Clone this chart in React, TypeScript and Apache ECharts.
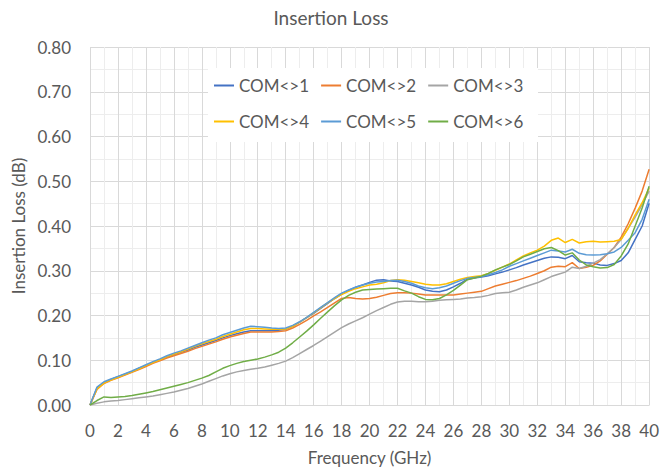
import React, { useEffect, useRef } from "react";
import * as echarts from "echarts";

const FREQ_GHZ = [
  0, 0.5, 1, 1.5, 2, 2.5, 3, 3.5, 4, 4.5, 5, 5.5, 6, 6.5, 7, 7.5, 8, 8.5, 9, 9.5,
  10, 10.5, 11, 11.5, 12, 12.5, 13, 13.5, 14, 14.5, 15, 15.5, 16, 16.5, 17, 17.5, 18, 18.5, 19, 19.5,
  20, 20.5, 21, 21.5, 22, 22.5, 23, 23.5, 24, 24.5, 25, 25.5, 26, 26.5, 27, 27.5, 28, 28.5, 29, 29.5,
  30, 30.5, 31, 31.5, 32, 32.5, 33, 33.5, 34, 34.5, 35, 35.5, 36, 36.5, 37, 37.5, 38, 38.5, 39, 39.5, 40,
];

const COM1 = [
  0.0, 0.038, 0.05, 0.057, 0.063, 0.069, 0.075, 0.082, 0.088, 0.095, 0.101, 0.107, 0.113, 0.118, 0.123, 0.129, 0.134, 0.139, 0.144, 0.15,
  0.155, 0.159, 0.163, 0.166, 0.166, 0.166, 0.166, 0.167, 0.169, 0.176, 0.185, 0.195, 0.205, 0.216, 0.227, 0.238, 0.248, 0.256, 0.263, 0.268,
  0.274, 0.279, 0.28, 0.277, 0.276, 0.272, 0.268, 0.263, 0.257, 0.254, 0.253, 0.257, 0.264, 0.272, 0.281, 0.284, 0.286, 0.289, 0.293, 0.297,
  0.302, 0.307, 0.313, 0.318, 0.323, 0.328, 0.331, 0.33, 0.327, 0.334, 0.32, 0.318, 0.317, 0.313, 0.312, 0.316, 0.323, 0.34, 0.37, 0.4, 0.451,
];
const COM2 = [
  0.0, 0.035, 0.048, 0.055, 0.061, 0.067, 0.073, 0.079, 0.086, 0.093, 0.099, 0.105, 0.11, 0.115, 0.12, 0.126, 0.131, 0.136, 0.141, 0.147,
  0.152, 0.156, 0.16, 0.163, 0.163, 0.163, 0.163, 0.164, 0.166, 0.172, 0.18, 0.189, 0.199, 0.208, 0.218, 0.228, 0.238, 0.24, 0.238, 0.237,
  0.238, 0.241, 0.245, 0.249, 0.251, 0.251, 0.25, 0.248, 0.246, 0.246, 0.246, 0.246, 0.246, 0.248, 0.25, 0.252, 0.254, 0.26, 0.266, 0.27,
  0.274, 0.278, 0.283, 0.288, 0.294, 0.3, 0.308, 0.31, 0.309, 0.318, 0.305, 0.308, 0.312, 0.322, 0.337, 0.352, 0.375, 0.405, 0.44, 0.478, 0.527,
];
const COM3 = [
  0.0, 0.004, 0.007, 0.009, 0.01, 0.012, 0.014, 0.016, 0.018, 0.02, 0.023, 0.026, 0.029, 0.033, 0.037, 0.042, 0.047, 0.053, 0.059, 0.065,
  0.07, 0.074, 0.077, 0.08, 0.082, 0.085, 0.089, 0.093, 0.098, 0.106, 0.115, 0.124, 0.133, 0.143, 0.153, 0.163, 0.173, 0.181, 0.188, 0.195,
  0.203, 0.211, 0.218, 0.225, 0.23, 0.232, 0.232, 0.231, 0.231, 0.232, 0.234, 0.235, 0.236, 0.237, 0.239, 0.24, 0.242, 0.245, 0.249, 0.251,
  0.252, 0.257, 0.263, 0.268, 0.273, 0.28, 0.287, 0.292, 0.297, 0.308, 0.305, 0.31, 0.317, 0.325, 0.338, 0.352, 0.37, 0.395, 0.42, 0.448, 0.478,
];
const COM4 = [
  0.0, 0.036, 0.049, 0.056, 0.062, 0.068, 0.074, 0.081, 0.088, 0.095, 0.101, 0.108, 0.114, 0.119, 0.125, 0.131, 0.137, 0.142, 0.147, 0.153,
  0.158, 0.163, 0.168, 0.171, 0.171, 0.17, 0.169, 0.169, 0.17, 0.176, 0.185, 0.195, 0.206, 0.217, 0.228, 0.238, 0.247, 0.254, 0.26, 0.264,
  0.268, 0.27, 0.273, 0.278, 0.28, 0.279, 0.276, 0.273, 0.27, 0.268, 0.268, 0.271, 0.276, 0.281, 0.285, 0.287, 0.289, 0.294, 0.301, 0.308,
  0.315, 0.324, 0.333, 0.34, 0.346, 0.355, 0.368, 0.373, 0.363, 0.37, 0.362, 0.365, 0.366, 0.364, 0.365, 0.366, 0.37, 0.395, 0.425, 0.452, 0.485,
];
const COM5 = [
  0.0, 0.04, 0.052, 0.058, 0.064, 0.07, 0.076, 0.083, 0.09, 0.097, 0.103, 0.11, 0.116, 0.121, 0.127, 0.133, 0.139, 0.145, 0.15, 0.157,
  0.162, 0.167, 0.172, 0.176, 0.175, 0.174, 0.172, 0.171, 0.172, 0.178, 0.186, 0.196, 0.207, 0.218, 0.229, 0.24, 0.25, 0.257, 0.263, 0.268,
  0.272, 0.275, 0.276, 0.278, 0.279, 0.276, 0.272, 0.266, 0.262, 0.26, 0.262, 0.266, 0.272, 0.278, 0.283, 0.285, 0.287, 0.291, 0.296, 0.302,
  0.31, 0.316, 0.322, 0.328, 0.334, 0.34, 0.346, 0.344, 0.342, 0.348, 0.339, 0.336, 0.335, 0.336, 0.338, 0.342, 0.352, 0.368, 0.385, 0.415, 0.46,
];
const COM6 = [
  0.0, 0.01, 0.018, 0.017, 0.018, 0.019, 0.021, 0.024, 0.027, 0.03, 0.034, 0.038, 0.042, 0.046, 0.05, 0.055, 0.06, 0.066, 0.074, 0.082,
  0.088, 0.093, 0.097, 0.1, 0.103, 0.107, 0.112, 0.118, 0.127, 0.139, 0.152, 0.165, 0.179, 0.194, 0.208, 0.222, 0.235, 0.245, 0.252, 0.257,
  0.258, 0.259, 0.26, 0.261, 0.261, 0.255, 0.25, 0.242, 0.236, 0.235, 0.238, 0.246, 0.256, 0.268, 0.28, 0.284, 0.288, 0.294, 0.302, 0.308,
  0.314, 0.322, 0.331, 0.337, 0.343, 0.349, 0.352, 0.345, 0.335, 0.34, 0.324, 0.313, 0.309, 0.306, 0.307, 0.314, 0.333, 0.36, 0.4, 0.44, 0.489,
];

const SERIES_NAMES = ["COM<>1", "COM<>2", "COM<>3", "COM<>4", "COM<>5", "COM<>6"];
const SERIES_VALUES = [COM1, COM2, COM3, COM4, COM5, COM6];
const COLORS = ["#4472C4", "#ED7D31", "#A5A5A5", "#FFC000", "#5B9BD5", "#70AD47"];

const FONT = "Lato";
const TEXT_COLOR = "#595959";

export default function App() {
  const ref = useRef<HTMLDivElement>(null);
  useEffect(() => {
    document.body.style.margin = "0";
    if (!ref.current) return;
    const chart = echarts.init(ref.current, null, { renderer: "svg" });
    const legendCommon = {
      orient: "horizontal",
      icon: "rect",
      itemWidth: 20,
      itemHeight: 2,
      itemGap: 12,
      left: 214,
      padding: 0,
      textStyle: { fontFamily: FONT, fontSize: 17, color: TEXT_COLOR },
    };
    chart.setOption({
      animation: false,
      backgroundColor: "#ffffff",
      textStyle: { fontFamily: FONT },
      title: {
        text: "Insertion Loss",
        left: "center",
        top: 3,
        textStyle: { fontFamily: FONT, fontSize: 19, fontWeight: "normal", color: TEXT_COLOR },
      },
      graphic: [
        {
          type: "rect",
          left: 208,
          top: 68,
          z: 1,
          shape: { width: 330, height: 74 },
          style: { fill: "#ffffff" },
        },
      ],
      legend: [
        { ...legendCommon, top: 77, data: SERIES_NAMES.slice(0, 3) },
        { ...legendCommon, top: 113, data: SERIES_NAMES.slice(3, 6) },
      ],
      grid: { left: 90, right: 9, top: 47, bottom: 66, containLabel: false },
      xAxis: {
        type: "value",
        min: 0,
        max: 40,
        interval: 2,
        name: "Frequency (GHz)",
        nameLocation: "middle",
        nameGap: 44,
        nameTextStyle: { fontFamily: FONT, fontSize: 17, color: TEXT_COLOR },
        axisLine: { show: true, lineStyle: { color: "#D9D9D9", width: 1 } },
        axisTick: { show: false },
        axisLabel: { margin: 17, fontFamily: FONT, fontSize: 17, color: TEXT_COLOR },
        splitLine: { show: true, lineStyle: { color: "#D9D9D9", width: 1 } },
        minorTick: { show: false, splitNumber: 2 },
        minorSplitLine: { show: true, lineStyle: { color: "#EDEDED", width: 1 } },
      },
      yAxis: {
        type: "value",
        min: 0,
        max: 0.8,
        interval: 0.1,
        name: "Insertion Loss (dB)",
        nameLocation: "middle",
        nameGap: 61,
        nameTextStyle: { fontFamily: FONT, fontSize: 17, color: TEXT_COLOR },
        axisLine: { show: false },
        axisTick: { show: false },
        axisLabel: {
          margin: 19,
          fontFamily: FONT,
          fontSize: 17,
          color: TEXT_COLOR,
          formatter: (v: number) => v.toFixed(2),
        },
        splitLine: { show: true, lineStyle: { color: "#D9D9D9", width: 1 } },
        minorTick: { show: false, splitNumber: 2 },
        minorSplitLine: { show: true, lineStyle: { color: "#EDEDED", width: 1 } },
      },
      series: SERIES_NAMES.map((name, i) => ({
        name,
        type: "line",
        data: FREQ_GHZ.map((f, j) => [f, SERIES_VALUES[i][j]]),
        showSymbol: false,
        symbol: "none",
        color: COLORS[i],
        lineStyle: { color: COLORS[i], width: 1.5 },
        z: 2 + i,
      })),
    });
    return () => chart.dispose();
  }, []);
  return <div ref={ref} style={{ width: 662, height: 471 }} />;
}
